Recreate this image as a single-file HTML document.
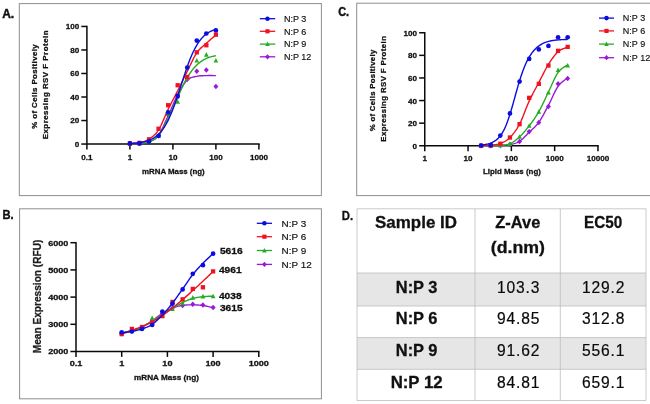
<!DOCTYPE html>
<html><head><meta charset="utf-8"><title>Figure</title>
<style>
html,body{margin:0;padding:0;background:#fff;}
body{width:650px;height:404px;overflow:hidden;font-family:'Liberation Sans', sans-serif;}
svg{display:block;font-family:'Liberation Sans', sans-serif;}
</style></head><body>
<svg width="650" height="404" viewBox="0 0 650 404">
<rect x="0" y="0" width="650" height="404" fill="#fff"/>
<g style="opacity:0.999;filter:blur(0.3px)">
<rect x="19.3" y="3.6" width="302.1" height="192.0" fill="#fff" stroke="#8e8e8e" stroke-width="1"/>
<text transform="translate(2.2,17.6) scale(0.96,1)" font-size="12.5" font-weight="bold" text-anchor="start" fill="#111" stroke="#111" stroke-width="0.45">A.</text>
<path d="M86.9 25.69999999999999 L86.9 144.05 M86.9 144.05 L259.65 144.05" stroke="#0a0a0a" stroke-width="1.5" fill="none"/>
<path d="M86.9 144.05 L86.9 149.45000000000002" stroke="#0a0a0a" stroke-width="1.5"/>
<text x="86.9" y="159.8" font-size="8.1" font-weight="bold" text-anchor="middle" fill="#111" stroke="#111" stroke-width="0.28">0.1</text>
<path d="M129.9 144.05 L129.9 149.45000000000002" stroke="#0a0a0a" stroke-width="1.5"/>
<text x="129.9" y="159.8" font-size="8.1" font-weight="bold" text-anchor="middle" fill="#111" stroke="#111" stroke-width="0.28">1</text>
<path d="M172.9 144.05 L172.9 149.45000000000002" stroke="#0a0a0a" stroke-width="1.5"/>
<text x="172.9" y="159.8" font-size="8.1" font-weight="bold" text-anchor="middle" fill="#111" stroke="#111" stroke-width="0.28">10</text>
<path d="M215.9 144.05 L215.9 149.45000000000002" stroke="#0a0a0a" stroke-width="1.5"/>
<text x="215.9" y="159.8" font-size="8.1" font-weight="bold" text-anchor="middle" fill="#111" stroke="#111" stroke-width="0.28">100</text>
<path d="M258.9 144.05 L258.9 149.45000000000002" stroke="#0a0a0a" stroke-width="1.5"/>
<text x="258.9" y="159.8" font-size="8.1" font-weight="bold" text-anchor="middle" fill="#111" stroke="#111" stroke-width="0.28">1000</text>
<path d="M81.30000000000001 144.05 L86.9 144.05" stroke="#0a0a0a" stroke-width="1.5"/>
<text x="79.2" y="147.0" font-size="8.1" font-weight="bold" text-anchor="end" fill="#111" stroke="#111" stroke-width="0.28">0</text>
<path d="M81.30000000000001 120.53 L86.9 120.53" stroke="#0a0a0a" stroke-width="1.5"/>
<text x="79.2" y="123.48" font-size="8.1" font-weight="bold" text-anchor="end" fill="#111" stroke="#111" stroke-width="0.28">20</text>
<path d="M81.30000000000001 97.01 L86.9 97.01" stroke="#0a0a0a" stroke-width="1.5"/>
<text x="79.2" y="99.96000000000001" font-size="8.1" font-weight="bold" text-anchor="end" fill="#111" stroke="#111" stroke-width="0.28">40</text>
<path d="M81.30000000000001 73.49000000000001 L86.9 73.49000000000001" stroke="#0a0a0a" stroke-width="1.5"/>
<text x="79.2" y="76.44000000000001" font-size="8.1" font-weight="bold" text-anchor="end" fill="#111" stroke="#111" stroke-width="0.28">60</text>
<path d="M81.30000000000001 49.97 L86.9 49.97" stroke="#0a0a0a" stroke-width="1.5"/>
<text x="79.2" y="52.92" font-size="8.1" font-weight="bold" text-anchor="end" fill="#111" stroke="#111" stroke-width="0.28">80</text>
<path d="M81.30000000000001 26.44999999999999 L86.9 26.44999999999999" stroke="#0a0a0a" stroke-width="1.5"/>
<text x="79.2" y="29.399999999999988" font-size="8.1" font-weight="bold" text-anchor="end" fill="#111" stroke="#111" stroke-width="0.28">100</text>
<text x="173.4" y="173.8" font-size="7.9" font-weight="bold" text-anchor="middle" fill="#111" textLength="62.6" lengthAdjust="spacing" stroke="#111" stroke-width="0.28">mRNA Mass (ng)</text>
<text transform="translate(37.2,86.5) rotate(-90)" font-size="7.9" font-weight="bold" text-anchor="middle" fill="#111" textLength="84.3" lengthAdjust="spacing" stroke="#111" stroke-width="0.28">% of Cells Positively</text>
<text transform="translate(48.3,84.9) rotate(-90)" font-size="7.9" font-weight="bold" text-anchor="middle" fill="#111" textLength="108.9" lengthAdjust="spacing" stroke="#111" stroke-width="0.28">Expressing RSV F Protein</text>
<path d="M129.90 143.70 L130.36 143.68 L130.94 143.66 L131.62 143.64 L132.38 143.61 L133.20 143.59 L134.08 143.56 L134.99 143.52 L135.92 143.48 L136.84 143.43 L137.75 143.37 L138.63 143.30 L139.46 143.23 L140.25 143.15 L141.05 143.09 L141.84 143.03 L142.64 142.98 L143.44 142.91 L144.23 142.84 L145.03 142.74 L145.83 142.61 L146.62 142.45 L147.42 142.25 L148.21 142.00 L149.01 141.70 L149.81 141.37 L150.60 141.06 L151.40 140.73 L152.20 140.39 L152.99 140.01 L153.79 139.58 L154.59 139.09 L155.38 138.53 L156.18 137.87 L156.97 137.11 L157.77 136.24 L158.57 135.23 L159.36 134.07 L160.16 132.77 L160.96 131.33 L161.75 129.79 L162.55 128.15 L163.34 126.45 L164.14 124.69 L164.94 122.90 L165.73 121.10 L166.53 119.31 L167.33 117.55 L168.12 115.83 L168.92 114.10 L169.71 112.32 L170.51 110.50 L171.31 108.66 L172.10 106.80 L172.90 104.94 L173.70 103.10 L174.49 101.29 L175.29 99.53 L176.09 97.83 L176.88 96.20 L177.68 94.66 L178.47 93.18 L179.27 91.72 L180.07 90.30 L180.86 88.91 L181.66 87.57 L182.46 86.28 L183.25 85.05 L184.05 83.89 L184.84 82.81 L185.64 81.80 L186.44 80.89 L187.23 80.08 L188.03 79.37 L188.83 78.79 L189.62 78.30 L190.42 77.91 L191.21 77.59 L192.01 77.33 L192.81 77.12 L193.60 76.94 L194.40 76.78 L195.20 76.64 L195.99 76.48 L196.79 76.31 L197.59 76.14 L198.38 76.01 L199.18 75.90 L199.97 75.82 L200.77 75.77 L201.57 75.72 L202.36 75.70 L203.16 75.68 L203.96 75.66 L204.75 75.65 L205.55 75.63 L206.34 75.61 L207.17 75.58 L208.05 75.57 L208.96 75.56 L209.88 75.55 L210.81 75.56 L211.72 75.56 L212.60 75.57 L213.42 75.58 L214.18 75.59 L214.86 75.60 L215.44 75.60 L215.90 75.61" fill="none" stroke="#9a18d8" stroke-width="1.4" stroke-linejoin="round" stroke-linecap="butt"/>
<path d="M129.90 140.95 L132.38 143.70 L129.90 146.45 L127.43 143.70 Z" fill="#9a18d8"/>
<path d="M139.46 140.83 L141.93 143.58 L139.46 146.33 L136.98 143.58 Z" fill="#9a18d8"/>
<path d="M149.01 138.95 L151.49 141.70 L149.01 144.45 L146.54 141.70 Z" fill="#9a18d8"/>
<path d="M158.57 133.07 L161.04 135.82 L158.57 138.57 L156.09 135.82 Z" fill="#9a18d8"/>
<path d="M168.12 111.90 L170.60 114.65 L168.12 117.40 L165.65 114.65 Z" fill="#9a18d8"/>
<path d="M177.68 94.26 L180.15 97.01 L177.68 99.76 L175.20 97.01 Z" fill="#9a18d8"/>
<path d="M187.23 76.62 L189.71 79.37 L187.23 82.12 L184.76 79.37 Z" fill="#9a18d8"/>
<path d="M196.79 68.39 L199.26 71.14 L196.79 73.89 L194.31 71.14 Z" fill="#9a18d8"/>
<path d="M206.34 67.21 L208.82 69.96 L206.34 72.71 L203.87 69.96 Z" fill="#9a18d8"/>
<path d="M215.90 83.68 L218.38 86.43 L215.90 89.18 L213.43 86.43 Z" fill="#9a18d8"/>
<path d="M129.90 143.70 L130.36 143.68 L130.94 143.66 L131.62 143.64 L132.38 143.61 L133.20 143.59 L134.08 143.56 L134.99 143.52 L135.92 143.48 L136.84 143.43 L137.75 143.37 L138.63 143.30 L139.46 143.23 L140.25 143.15 L141.05 143.08 L141.84 143.02 L142.64 142.96 L143.44 142.89 L144.23 142.80 L145.03 142.70 L145.83 142.57 L146.62 142.41 L147.42 142.22 L148.21 141.98 L149.01 141.70 L149.81 141.40 L150.60 141.11 L151.40 140.81 L152.20 140.50 L152.99 140.15 L153.79 139.76 L154.59 139.32 L155.38 138.81 L156.18 138.22 L156.97 137.53 L157.77 136.73 L158.57 135.82 L159.36 134.77 L160.16 133.60 L160.96 132.32 L161.75 130.94 L162.55 129.48 L163.34 127.95 L164.14 126.37 L164.94 124.75 L165.73 123.11 L166.53 121.46 L167.33 119.81 L168.12 118.18 L168.92 116.53 L169.71 114.84 L170.51 113.10 L171.31 111.32 L172.10 109.52 L172.90 107.71 L173.70 105.89 L174.49 104.07 L175.29 102.27 L176.09 100.48 L176.88 98.73 L177.68 97.01 L178.47 95.30 L179.27 93.58 L180.07 91.85 L180.86 90.12 L181.66 88.40 L182.46 86.71 L183.25 85.04 L184.05 83.41 L184.84 81.83 L185.64 80.31 L186.44 78.86 L187.23 77.49 L188.03 76.18 L188.83 74.93 L189.62 73.74 L190.42 72.59 L191.21 71.50 L192.01 70.45 L192.81 69.44 L193.60 68.48 L194.40 67.56 L195.20 66.68 L195.99 65.83 L196.79 65.02 L197.59 64.26 L198.38 63.54 L199.18 62.87 L199.97 62.25 L200.77 61.67 L201.57 61.13 L202.36 60.62 L203.16 60.14 L203.96 59.68 L204.75 59.25 L205.55 58.84 L206.34 58.44 L207.17 58.06 L208.05 57.72 L208.96 57.40 L209.88 57.11 L210.81 56.85 L211.72 56.61 L212.60 56.40 L213.42 56.21 L214.18 56.03 L214.86 55.88 L215.44 55.74 L215.90 55.61" fill="none" stroke="#24ad24" stroke-width="1.4" stroke-linejoin="round" stroke-linecap="butt"/>
<path d="M129.90 141.11 L132.25 145.69 L127.55 145.69 Z" fill="#24ad24"/>
<path d="M139.46 140.99 L141.81 145.58 L137.11 145.58 Z" fill="#24ad24"/>
<path d="M149.01 139.11 L151.36 143.70 L146.66 143.70 Z" fill="#24ad24"/>
<path d="M158.57 133.23 L160.92 137.82 L156.22 137.82 Z" fill="#24ad24"/>
<path d="M168.12 110.89 L170.47 115.47 L165.77 115.47 Z" fill="#24ad24"/>
<path d="M177.68 99.13 L180.03 103.71 L175.33 103.71 Z" fill="#24ad24"/>
<path d="M187.23 75.61 L189.58 80.19 L184.88 80.19 Z" fill="#24ad24"/>
<path d="M196.79 57.97 L199.14 62.55 L194.44 62.55 Z" fill="#24ad24"/>
<path d="M206.34 52.09 L208.69 56.67 L203.99 56.67 Z" fill="#24ad24"/>
<path d="M215.90 57.97 L218.25 62.55 L213.55 62.55 Z" fill="#24ad24"/>
<path d="M129.90 143.46 L130.36 143.43 L130.94 143.40 L131.62 143.38 L132.38 143.35 L133.20 143.31 L134.08 143.27 L134.99 143.22 L135.92 143.14 L136.84 143.05 L137.75 142.94 L138.63 142.80 L139.46 142.64 L140.25 142.46 L141.05 142.27 L141.84 142.08 L142.64 141.87 L143.44 141.65 L144.23 141.40 L145.03 141.12 L145.83 140.81 L146.62 140.45 L147.42 140.06 L148.21 139.61 L149.01 139.11 L149.81 138.58 L150.60 138.04 L151.40 137.48 L152.20 136.89 L152.99 136.27 L153.79 135.59 L154.59 134.85 L155.38 134.05 L156.18 133.17 L156.97 132.19 L157.77 131.12 L158.57 129.94 L159.36 128.62 L160.16 127.15 L160.96 125.55 L161.75 123.85 L162.55 122.07 L163.34 120.24 L164.14 118.37 L164.94 116.49 L165.73 114.63 L166.53 112.80 L167.33 111.04 L168.12 109.36 L168.92 107.74 L169.71 106.16 L170.51 104.59 L171.31 103.05 L172.10 101.52 L172.90 99.99 L173.70 98.48 L174.49 96.96 L175.29 95.43 L176.09 93.90 L176.88 92.35 L177.68 90.78 L178.47 89.19 L179.27 87.58 L180.07 85.96 L180.86 84.34 L181.66 82.71 L182.46 81.08 L183.25 79.44 L184.05 77.81 L184.84 76.19 L185.64 74.57 L186.44 72.96 L187.23 71.37 L188.03 69.77 L188.83 68.12 L189.62 66.46 L190.42 64.78 L191.21 63.11 L192.01 61.47 L192.81 59.85 L193.60 58.28 L194.40 56.78 L195.20 55.36 L195.99 54.02 L196.79 52.79 L197.59 51.68 L198.38 50.67 L199.18 49.74 L199.97 48.90 L200.77 48.12 L201.57 47.38 L202.36 46.69 L203.16 46.01 L203.96 45.35 L204.75 44.67 L205.55 43.99 L206.34 43.27 L207.17 42.51 L208.05 41.72 L208.96 40.92 L209.88 40.12 L210.81 39.33 L211.72 38.56 L212.60 37.82 L213.42 37.12 L214.18 36.48 L214.86 35.92 L215.44 35.43 L215.90 35.03" fill="none" stroke="#f01220" stroke-width="1.4" stroke-linejoin="round" stroke-linecap="butt"/>
<rect x="127.75" y="141.31" width="4.30" height="4.30" fill="#f01220"/>
<rect x="137.31" y="140.72" width="4.30" height="4.30" fill="#f01220"/>
<rect x="146.86" y="137.20" width="4.30" height="4.30" fill="#f01220"/>
<rect x="156.42" y="126.61" width="4.30" height="4.30" fill="#f01220"/>
<rect x="165.97" y="103.09" width="4.30" height="4.30" fill="#f01220"/>
<rect x="175.53" y="83.10" width="4.30" height="4.30" fill="#f01220"/>
<rect x="185.08" y="74.87" width="4.30" height="4.30" fill="#f01220"/>
<rect x="194.64" y="50.17" width="4.30" height="4.30" fill="#f01220"/>
<rect x="204.19" y="43.12" width="4.30" height="4.30" fill="#f01220"/>
<rect x="213.75" y="32.53" width="4.30" height="4.30" fill="#f01220"/>
<path d="M129.90 143.54 L130.76 143.49 L131.62 143.43 L132.48 143.37 L133.34 143.31 L134.20 143.24 L135.06 143.16 L135.92 143.08 L136.78 142.99 L137.64 142.89 L138.50 142.78 L139.36 142.66 L140.22 142.53 L141.08 142.38 L141.94 142.23 L142.80 142.05 L143.66 141.87 L144.52 141.66 L145.38 141.44 L146.24 141.20 L147.10 140.93 L147.96 140.64 L148.82 140.33 L149.68 139.98 L150.54 139.61 L151.40 139.21 L152.26 138.76 L153.12 138.28 L153.98 137.76 L154.84 137.20 L155.70 136.58 L156.56 135.92 L157.42 135.20 L158.28 134.43 L159.14 133.59 L160.00 132.69 L160.86 131.72 L161.72 130.67 L162.58 129.55 L163.44 128.36 L164.30 127.07 L165.16 125.71 L166.02 124.25 L166.88 122.70 L167.74 121.06 L168.60 119.33 L169.46 117.50 L170.32 115.58 L171.18 113.57 L172.04 111.46 L172.90 109.27 L173.76 107.00 L174.62 104.65 L175.48 102.22 L176.34 99.73 L177.20 97.19 L178.06 94.60 L178.92 91.97 L179.78 89.31 L180.64 86.63 L181.50 83.95 L182.36 81.28 L183.22 78.62 L184.08 75.99 L184.94 73.40 L185.80 70.85 L186.66 68.36 L187.52 65.93 L188.38 63.58 L189.24 61.30 L190.10 59.11 L190.96 57.00 L191.82 54.98 L192.68 53.06 L193.54 51.23 L194.40 49.49 L195.26 47.85 L196.12 46.30 L196.98 44.84 L197.84 43.47 L198.70 42.19 L199.56 40.98 L200.42 39.86 L201.28 38.82 L202.14 37.84 L203.00 36.94 L203.86 36.10 L204.72 35.32 L205.58 34.60 L206.44 33.94 L207.30 33.32 L208.16 32.76 L209.02 32.23 L209.88 31.75 L210.74 31.31 L211.60 30.90 L212.46 30.53 L213.32 30.18 L214.18 29.87 L215.04 29.58 L215.90 29.31" fill="none" stroke="#0c0ce0" stroke-width="1.4" stroke-linejoin="round" stroke-linecap="butt"/>
<circle cx="129.90" cy="143.46" r="2.35" fill="#0c0ce0"/>
<circle cx="139.46" cy="143.46" r="2.35" fill="#0c0ce0"/>
<circle cx="149.01" cy="141.70" r="2.35" fill="#0c0ce0"/>
<circle cx="158.57" cy="135.82" r="2.35" fill="#0c0ce0"/>
<circle cx="168.12" cy="112.30" r="2.35" fill="#0c0ce0"/>
<circle cx="177.68" cy="95.83" r="2.35" fill="#0c0ce0"/>
<circle cx="187.23" cy="67.61" r="2.35" fill="#0c0ce0"/>
<circle cx="196.79" cy="40.56" r="2.35" fill="#0c0ce0"/>
<circle cx="206.34" cy="33.51" r="2.35" fill="#0c0ce0"/>
<circle cx="215.90" cy="30.45" r="2.35" fill="#0c0ce0"/>
<path d="M259.8 18.7 L275.2 18.7" stroke="#0c0ce0" stroke-width="1.3"/>
<circle cx="267.50" cy="18.70" r="2.28" fill="#0c0ce0"/>
<text x="283.9" y="21.9" font-size="9" font-weight="normal" text-anchor="start" fill="#111" stroke="#111" stroke-width="0.15">N:P 3</text>
<path d="M259.8 31.3 L275.2 31.3" stroke="#f01220" stroke-width="1.3"/>
<rect x="265.41" y="29.21" width="4.17" height="4.17" fill="#f01220"/>
<text x="283.9" y="34.5" font-size="9" font-weight="normal" text-anchor="start" fill="#111" stroke="#111" stroke-width="0.15">N:P 6</text>
<path d="M259.8 44.1 L275.2 44.1" stroke="#24ad24" stroke-width="1.3"/>
<path d="M267.50 41.59 L269.78 46.04 L265.22 46.04 Z" fill="#24ad24"/>
<text x="283.9" y="47.300000000000004" font-size="9" font-weight="normal" text-anchor="start" fill="#111" stroke="#111" stroke-width="0.15">N:P 9</text>
<path d="M259.8 56.8 L275.2 56.8" stroke="#9a18d8" stroke-width="1.3"/>
<path d="M267.50 54.13 L269.90 56.80 L267.50 59.47 L265.10 56.80 Z" fill="#9a18d8"/>
<text x="283.9" y="60.0" font-size="9" font-weight="normal" text-anchor="start" fill="#111" stroke="#111" stroke-width="0.15">N:P 12</text>
<rect x="19.6" y="208.8" width="301.8" height="190.0" fill="#fff" stroke="#8e8e8e" stroke-width="1"/>
<text transform="translate(2.4,218.9) scale(0.9,1)" font-size="12.4" font-weight="bold" text-anchor="start" fill="#111" stroke="#111" stroke-width="0.45">B.</text>
<path d="M76.0 241.95 L76.0 351.5 M76.0 351.5 L259.55 351.5" stroke="#0a0a0a" stroke-width="1.5" fill="none"/>
<path d="M76.0 351.5 L76.0 356.9" stroke="#0a0a0a" stroke-width="1.5"/>
<text transform="translate(76.0,366.3) scale(1.18,1)" font-size="7.7" font-weight="bold" text-anchor="middle" fill="#111" stroke="#111" stroke-width="0.28">0.1</text>
<path d="M121.7 351.5 L121.7 356.9" stroke="#0a0a0a" stroke-width="1.5"/>
<text transform="translate(121.7,366.3) scale(1.18,1)" font-size="7.7" font-weight="bold" text-anchor="middle" fill="#111" stroke="#111" stroke-width="0.28">1</text>
<path d="M167.4 351.5 L167.4 356.9" stroke="#0a0a0a" stroke-width="1.5"/>
<text transform="translate(167.4,366.3) scale(1.18,1)" font-size="7.7" font-weight="bold" text-anchor="middle" fill="#111" stroke="#111" stroke-width="0.28">10</text>
<path d="M213.10000000000002 351.5 L213.10000000000002 356.9" stroke="#0a0a0a" stroke-width="1.5"/>
<text transform="translate(213.10000000000002,366.3) scale(1.18,1)" font-size="7.7" font-weight="bold" text-anchor="middle" fill="#111" stroke="#111" stroke-width="0.28">100</text>
<path d="M258.8 351.5 L258.8 356.9" stroke="#0a0a0a" stroke-width="1.5"/>
<text transform="translate(258.8,366.3) scale(1.18,1)" font-size="7.7" font-weight="bold" text-anchor="middle" fill="#111" stroke="#111" stroke-width="0.28">1000</text>
<path d="M70.4 351.5 L76.0 351.5" stroke="#0a0a0a" stroke-width="1.5"/>
<text transform="translate(68.4,354.3) scale(1.18,1)" font-size="7.7" font-weight="bold" text-anchor="end" fill="#111" stroke="#111" stroke-width="0.28">2000</text>
<path d="M70.4 324.3 L76.0 324.3" stroke="#0a0a0a" stroke-width="1.5"/>
<text transform="translate(68.4,327.1) scale(1.18,1)" font-size="7.7" font-weight="bold" text-anchor="end" fill="#111" stroke="#111" stroke-width="0.28">3000</text>
<path d="M70.4 297.1 L76.0 297.1" stroke="#0a0a0a" stroke-width="1.5"/>
<text transform="translate(68.4,299.90000000000003) scale(1.18,1)" font-size="7.7" font-weight="bold" text-anchor="end" fill="#111" stroke="#111" stroke-width="0.28">4000</text>
<path d="M70.4 269.9 L76.0 269.9" stroke="#0a0a0a" stroke-width="1.5"/>
<text transform="translate(68.4,272.7) scale(1.18,1)" font-size="7.7" font-weight="bold" text-anchor="end" fill="#111" stroke="#111" stroke-width="0.28">5000</text>
<path d="M70.4 242.7 L76.0 242.7" stroke="#0a0a0a" stroke-width="1.5"/>
<text transform="translate(68.4,245.5) scale(1.18,1)" font-size="7.7" font-weight="bold" text-anchor="end" fill="#111" stroke="#111" stroke-width="0.28">6000</text>
<text transform="translate(166.5,379.5) scale(1.09,1)" font-size="7.5" font-weight="bold" text-anchor="middle" fill="#111" stroke="#111" stroke-width="0.28">mRNA Mass (ng)</text>
<text transform="translate(40.7,296.4) rotate(-90)" font-size="10.1" font-weight="bold" text-anchor="middle" fill="#1c1c1c" textLength="113.6" lengthAdjust="spacing" stroke="#1c1c1c" stroke-width="0.28">Mean Expression (RFU)</text>
<path d="M121.70 333.82 L122.19 333.68 L122.80 333.50 L123.52 333.30 L124.33 333.07 L125.21 332.83 L126.14 332.56 L127.11 332.28 L128.09 332.00 L129.08 331.70 L130.05 331.41 L130.98 331.12 L131.86 330.83 L132.70 330.55 L133.55 330.27 L134.39 329.99 L135.24 329.71 L136.09 329.42 L136.93 329.13 L137.78 328.82 L138.63 328.50 L139.47 328.16 L140.32 327.81 L141.16 327.43 L142.01 327.02 L142.86 326.59 L143.70 326.13 L144.55 325.65 L145.40 325.16 L146.24 324.64 L147.09 324.11 L147.94 323.57 L148.78 323.02 L149.63 322.46 L150.47 321.90 L151.32 321.33 L152.17 320.76 L153.01 320.18 L153.86 319.58 L154.71 318.96 L155.55 318.33 L156.40 317.68 L157.24 317.04 L158.09 316.40 L158.94 315.77 L159.78 315.15 L160.63 314.55 L161.48 313.97 L162.32 313.42 L163.17 312.89 L164.01 312.37 L164.86 311.86 L165.71 311.36 L166.55 310.87 L167.40 310.40 L168.25 309.95 L169.09 309.51 L169.94 309.09 L170.79 308.70 L171.63 308.33 L172.48 307.98 L173.32 307.66 L174.17 307.36 L175.02 307.09 L175.86 306.83 L176.71 306.60 L177.56 306.38 L178.40 306.18 L179.25 306.00 L180.09 305.83 L180.94 305.68 L181.79 305.53 L182.63 305.40 L183.48 305.28 L184.33 305.17 L185.17 305.09 L186.02 305.02 L186.86 304.96 L187.71 304.92 L188.56 304.89 L189.40 304.87 L190.25 304.85 L191.10 304.85 L191.94 304.85 L192.79 304.85 L193.64 304.86 L194.48 304.88 L195.33 304.90 L196.17 304.93 L197.02 304.97 L197.87 305.02 L198.71 305.08 L199.56 305.15 L200.41 305.23 L201.25 305.32 L202.10 305.42 L202.94 305.53 L203.82 305.67 L204.75 305.83 L205.72 306.02 L206.71 306.23 L207.69 306.44 L208.66 306.66 L209.59 306.88 L210.47 307.09 L211.28 307.28 L212.00 307.45 L212.61 307.60 L213.10 307.71" fill="none" stroke="#9a18d8" stroke-width="1.4" stroke-linejoin="round" stroke-linecap="butt"/>
<path d="M121.70 331.07 L124.17 333.82 L121.70 336.57 L119.23 333.82 Z" fill="#9a18d8"/>
<path d="M131.86 328.35 L134.33 331.10 L131.86 333.85 L129.38 331.10 Z" fill="#9a18d8"/>
<path d="M142.01 324.81 L144.49 327.56 L142.01 330.31 L139.54 327.56 Z" fill="#9a18d8"/>
<path d="M152.17 317.47 L154.64 320.22 L152.17 322.97 L149.69 320.22 Z" fill="#9a18d8"/>
<path d="M162.32 310.67 L164.80 313.42 L162.32 316.17 L159.85 313.42 Z" fill="#9a18d8"/>
<path d="M172.48 305.23 L174.95 307.98 L172.48 310.73 L170.00 307.98 Z" fill="#9a18d8"/>
<path d="M182.63 302.75 L185.11 305.50 L182.63 308.25 L180.16 305.50 Z" fill="#9a18d8"/>
<path d="M192.79 301.45 L195.26 304.20 L192.79 306.95 L190.31 304.20 Z" fill="#9a18d8"/>
<path d="M202.94 302.24 L205.42 304.99 L202.94 307.74 L200.47 304.99 Z" fill="#9a18d8"/>
<path d="M213.10 304.82 L215.58 307.57 L213.10 310.32 L210.63 307.57 Z" fill="#9a18d8"/>
<path d="M121.70 333.00 L122.19 332.89 L122.80 332.75 L123.52 332.59 L124.33 332.41 L125.21 332.21 L126.14 332.00 L127.11 331.78 L128.09 331.54 L129.08 331.30 L130.05 331.06 L130.98 330.81 L131.86 330.56 L132.70 330.31 L133.55 330.06 L134.39 329.81 L135.24 329.55 L136.09 329.28 L136.93 329.01 L137.78 328.72 L138.63 328.42 L139.47 328.10 L140.32 327.76 L141.16 327.40 L142.01 327.02 L142.86 326.61 L143.70 326.17 L144.55 325.70 L145.40 325.22 L146.24 324.71 L147.09 324.20 L147.94 323.67 L148.78 323.14 L149.63 322.61 L150.47 322.08 L151.32 321.55 L152.17 321.04 L153.01 320.53 L153.86 320.01 L154.71 319.50 L155.55 318.98 L156.40 318.46 L157.24 317.94 L158.09 317.42 L158.94 316.90 L159.78 316.37 L160.63 315.84 L161.48 315.31 L162.32 314.78 L163.17 314.24 L164.01 313.70 L164.86 313.15 L165.71 312.59 L166.55 312.04 L167.40 311.48 L168.25 310.93 L169.09 310.38 L169.94 309.83 L170.79 309.30 L171.63 308.77 L172.48 308.25 L173.32 307.74 L174.17 307.23 L175.02 306.73 L175.86 306.23 L176.71 305.73 L177.56 305.24 L178.40 304.76 L179.25 304.29 L180.09 303.83 L180.94 303.39 L181.79 302.96 L182.63 302.54 L183.48 302.14 L184.33 301.74 L185.17 301.35 L186.02 300.97 L186.86 300.61 L187.71 300.25 L188.56 299.91 L189.40 299.59 L190.25 299.28 L191.10 298.99 L191.94 298.71 L192.79 298.46 L193.64 298.23 L194.48 298.02 L195.33 297.83 L196.17 297.65 L197.02 297.50 L197.87 297.36 L198.71 297.22 L199.56 297.11 L200.41 296.99 L201.25 296.89 L202.10 296.79 L202.94 296.69 L203.82 296.60 L204.75 296.52 L205.72 296.46 L206.71 296.40 L207.69 296.35 L208.66 296.31 L209.59 296.27 L210.47 296.24 L211.28 296.22 L212.00 296.19 L212.61 296.17 L213.10 296.15" fill="none" stroke="#24ad24" stroke-width="1.4" stroke-linejoin="round" stroke-linecap="butt"/>
<path d="M121.70 330.42 L124.05 335.00 L119.35 335.00 Z" fill="#24ad24"/>
<path d="M131.86 328.24 L134.21 332.83 L129.51 332.83 Z" fill="#24ad24"/>
<path d="M142.01 324.98 L144.36 329.56 L139.66 329.56 Z" fill="#24ad24"/>
<path d="M152.17 315.43 L154.52 320.01 L149.82 320.01 Z" fill="#24ad24"/>
<path d="M162.32 312.82 L164.67 317.40 L159.97 317.40 Z" fill="#24ad24"/>
<path d="M172.48 306.32 L174.83 310.90 L170.13 310.90 Z" fill="#24ad24"/>
<path d="M182.63 300.61 L184.98 305.19 L180.28 305.19 Z" fill="#24ad24"/>
<path d="M192.79 295.11 L195.14 299.70 L190.44 299.70 Z" fill="#24ad24"/>
<path d="M202.94 293.84 L205.29 298.42 L200.59 298.42 Z" fill="#24ad24"/>
<path d="M213.10 293.75 L215.45 298.34 L210.75 298.34 Z" fill="#24ad24"/>
<path d="M121.70 333.82 L122.19 333.65 L122.80 333.44 L123.52 333.19 L124.33 332.91 L125.21 332.61 L126.14 332.29 L127.11 331.96 L128.09 331.61 L129.08 331.27 L130.05 330.93 L130.98 330.60 L131.86 330.28 L132.70 329.98 L133.55 329.67 L134.39 329.37 L135.24 329.07 L136.09 328.76 L136.93 328.45 L137.78 328.13 L138.63 327.82 L139.47 327.49 L140.32 327.16 L141.16 326.82 L142.01 326.48 L142.86 326.12 L143.70 325.77 L144.55 325.42 L145.40 325.06 L146.24 324.69 L147.09 324.32 L147.94 323.94 L148.78 323.54 L149.63 323.14 L150.47 322.73 L151.32 322.30 L152.17 321.85 L153.01 321.39 L153.86 320.92 L154.71 320.43 L155.55 319.94 L156.40 319.43 L157.24 318.91 L158.09 318.38 L158.94 317.84 L159.78 317.29 L160.63 316.74 L161.48 316.17 L162.32 315.60 L163.17 315.01 L164.01 314.41 L164.86 313.81 L165.71 313.19 L166.55 312.56 L167.40 311.92 L168.25 311.28 L169.09 310.63 L169.94 309.97 L170.79 309.31 L171.63 308.65 L172.48 307.98 L173.32 307.31 L174.17 306.63 L175.02 305.94 L175.86 305.25 L176.71 304.55 L177.56 303.85 L178.40 303.14 L179.25 302.43 L180.09 301.71 L180.94 300.99 L181.79 300.27 L182.63 299.55 L183.48 298.82 L184.33 298.09 L185.17 297.35 L186.02 296.61 L186.86 295.87 L187.71 295.12 L188.56 294.37 L189.40 293.61 L190.25 292.86 L191.10 292.10 L191.94 291.34 L192.79 290.57 L193.64 289.81 L194.48 289.03 L195.33 288.26 L196.17 287.48 L197.02 286.70 L197.87 285.92 L198.71 285.14 L199.56 284.35 L200.41 283.56 L201.25 282.77 L202.10 281.98 L202.94 281.19 L203.82 280.36 L204.75 279.48 L205.72 278.57 L206.71 277.63 L207.69 276.70 L208.66 275.77 L209.59 274.88 L210.47 274.05 L211.28 273.27 L212.00 272.59 L212.61 272.00 L213.10 271.53" fill="none" stroke="#f01220" stroke-width="1.4" stroke-linejoin="round" stroke-linecap="butt"/>
<rect x="119.55" y="331.94" width="4.30" height="4.30" fill="#f01220"/>
<rect x="129.71" y="326.77" width="4.30" height="4.30" fill="#f01220"/>
<rect x="139.86" y="324.87" width="4.30" height="4.30" fill="#f01220"/>
<rect x="150.02" y="320.55" width="4.30" height="4.30" fill="#f01220"/>
<rect x="160.17" y="313.99" width="4.30" height="4.30" fill="#f01220"/>
<rect x="170.33" y="299.76" width="4.30" height="4.30" fill="#f01220"/>
<rect x="180.48" y="297.15" width="4.30" height="4.30" fill="#f01220"/>
<rect x="190.64" y="286.76" width="4.30" height="4.30" fill="#f01220"/>
<rect x="200.79" y="285.16" width="4.30" height="4.30" fill="#f01220"/>
<rect x="210.95" y="269.25" width="4.30" height="4.30" fill="#f01220"/>
<path d="M121.70 332.73 L122.19 332.67 L122.80 332.60 L123.52 332.51 L124.33 332.42 L125.21 332.32 L126.14 332.20 L127.11 332.08 L128.09 331.96 L129.08 331.82 L130.05 331.68 L130.98 331.53 L131.86 331.37 L132.70 331.21 L133.55 331.05 L134.39 330.89 L135.24 330.72 L136.09 330.54 L136.93 330.35 L137.78 330.15 L138.63 329.94 L139.47 329.71 L140.32 329.47 L141.16 329.21 L142.01 328.92 L142.86 328.63 L143.70 328.33 L144.55 328.03 L145.40 327.72 L146.24 327.39 L147.09 327.04 L147.94 326.66 L148.78 326.26 L149.63 325.83 L150.47 325.36 L151.32 324.85 L152.17 324.30 L153.01 323.70 L153.86 323.06 L154.71 322.38 L155.55 321.66 L156.40 320.91 L157.24 320.14 L158.09 319.33 L158.94 318.51 L159.78 317.66 L160.63 316.80 L161.48 315.93 L162.32 315.05 L163.17 314.16 L164.01 313.24 L164.86 312.30 L165.71 311.34 L166.55 310.37 L167.40 309.37 L168.25 308.36 L169.09 307.34 L169.94 306.29 L170.79 305.24 L171.63 304.17 L172.48 303.08 L173.32 301.98 L174.17 300.86 L175.02 299.71 L175.86 298.54 L176.71 297.36 L177.56 296.16 L178.40 294.96 L179.25 293.76 L180.09 292.55 L180.94 291.34 L181.79 290.14 L182.63 288.94 L183.48 287.74 L184.33 286.52 L185.17 285.28 L186.02 284.04 L186.86 282.79 L187.71 281.55 L188.56 280.32 L189.40 279.11 L190.25 277.91 L191.10 276.75 L191.94 275.62 L192.79 274.52 L193.64 273.47 L194.48 272.44 L195.33 271.44 L196.17 270.47 L197.02 269.51 L197.87 268.58 L198.71 267.66 L199.56 266.76 L200.41 265.87 L201.25 264.98 L202.10 264.11 L202.94 263.24 L203.82 262.35 L204.75 261.43 L205.72 260.49 L206.71 259.55 L207.69 258.63 L208.66 257.73 L209.59 256.87 L210.47 256.06 L211.28 255.32 L212.00 254.66 L212.61 254.09 L213.10 253.63" fill="none" stroke="#0c0ce0" stroke-width="1.4" stroke-linejoin="round" stroke-linecap="butt"/>
<circle cx="121.70" cy="332.30" r="2.35" fill="#0c0ce0"/>
<circle cx="131.86" cy="331.51" r="2.35" fill="#0c0ce0"/>
<circle cx="142.01" cy="328.92" r="2.35" fill="#0c0ce0"/>
<circle cx="152.17" cy="325.01" r="2.35" fill="#0c0ce0"/>
<circle cx="162.32" cy="311.52" r="2.35" fill="#0c0ce0"/>
<circle cx="172.48" cy="303.71" r="2.35" fill="#0c0ce0"/>
<circle cx="182.63" cy="289.40" r="2.35" fill="#0c0ce0"/>
<circle cx="192.79" cy="273.79" r="2.35" fill="#0c0ce0"/>
<circle cx="202.94" cy="265.19" r="2.35" fill="#0c0ce0"/>
<circle cx="213.10" cy="253.63" r="2.35" fill="#0c0ce0"/>
<path d="M256.8 223.3 L272.0 223.3" stroke="#0c0ce0" stroke-width="1.3"/>
<circle cx="264.40" cy="223.30" r="2.28" fill="#0c0ce0"/>
<text transform="translate(281.6,226.5) scale(1.1,1)" font-size="9" font-weight="normal" text-anchor="start" fill="#111" stroke="#111" stroke-width="0.15">N:P 3</text>
<path d="M256.8 236.7 L272.0 236.7" stroke="#f01220" stroke-width="1.3"/>
<rect x="262.31" y="234.61" width="4.17" height="4.17" fill="#f01220"/>
<text transform="translate(281.6,239.89999999999998) scale(1.1,1)" font-size="9" font-weight="normal" text-anchor="start" fill="#111" stroke="#111" stroke-width="0.15">N:P 6</text>
<path d="M256.8 250.5 L272.0 250.5" stroke="#24ad24" stroke-width="1.3"/>
<path d="M264.40 247.99 L266.68 252.44 L262.12 252.44 Z" fill="#24ad24"/>
<text transform="translate(281.6,253.7) scale(1.1,1)" font-size="9" font-weight="normal" text-anchor="start" fill="#111" stroke="#111" stroke-width="0.15">N:P 9</text>
<path d="M256.8 264.4 L272.0 264.4" stroke="#9a18d8" stroke-width="1.3"/>
<path d="M264.40 261.73 L266.80 264.40 L264.40 267.07 L262.00 264.40 Z" fill="#9a18d8"/>
<text transform="translate(281.6,267.59999999999997) scale(1.1,1)" font-size="9" font-weight="normal" text-anchor="start" fill="#111" stroke="#111" stroke-width="0.15">N:P 12</text>
<text transform="translate(219.9,254.3) scale(1.1,1)" font-size="9.3" font-weight="bold" text-anchor="start" fill="#111" stroke="#111" stroke-width="0.28">5616</text>
<text transform="translate(218.9,272.5) scale(1.1,1)" font-size="9.3" font-weight="bold" text-anchor="start" fill="#111" stroke="#111" stroke-width="0.28">4961</text>
<text transform="translate(218.9,298.9) scale(1.1,1)" font-size="9.3" font-weight="bold" text-anchor="start" fill="#111" stroke="#111" stroke-width="0.28">4038</text>
<text transform="translate(219.9,311.3) scale(1.1,1)" font-size="9.3" font-weight="bold" text-anchor="start" fill="#111" stroke="#111" stroke-width="0.28">3615</text>
<rect x="356.7" y="3.2" width="320" height="192.4" fill="#fff" stroke="#8e8e8e" stroke-width="1"/>
<text transform="translate(338.2,15.9) scale(0.86,1)" font-size="12.6" font-weight="bold" text-anchor="start" fill="#111" stroke="#111" stroke-width="0.45">C.</text>
<path d="M424.75 32.000000000000014 L424.75 145.75 M424.75 145.75 L598.7 145.75" stroke="#0a0a0a" stroke-width="1.5" fill="none"/>
<path d="M424.75 145.75 L424.75 151.15" stroke="#0a0a0a" stroke-width="1.5"/>
<text x="424.75" y="161.45" font-size="8.1" font-weight="bold" text-anchor="middle" fill="#111" stroke="#111" stroke-width="0.28">1</text>
<path d="M468.05 145.75 L468.05 151.15" stroke="#0a0a0a" stroke-width="1.5"/>
<text x="468.05" y="161.45" font-size="8.1" font-weight="bold" text-anchor="middle" fill="#111" stroke="#111" stroke-width="0.28">10</text>
<path d="M511.35 145.75 L511.35 151.15" stroke="#0a0a0a" stroke-width="1.5"/>
<text x="511.35" y="161.45" font-size="8.1" font-weight="bold" text-anchor="middle" fill="#111" stroke="#111" stroke-width="0.28">100</text>
<path d="M554.65 145.75 L554.65 151.15" stroke="#0a0a0a" stroke-width="1.5"/>
<text x="554.65" y="161.45" font-size="8.1" font-weight="bold" text-anchor="middle" fill="#111" stroke="#111" stroke-width="0.28">1000</text>
<path d="M597.95 145.75 L597.95 151.15" stroke="#0a0a0a" stroke-width="1.5"/>
<text x="597.95" y="161.45" font-size="8.1" font-weight="bold" text-anchor="middle" fill="#111" stroke="#111" stroke-width="0.28">10000</text>
<path d="M419.15 145.75 L424.75 145.75" stroke="#0a0a0a" stroke-width="1.5"/>
<text x="417.05" y="148.7" font-size="8.1" font-weight="bold" text-anchor="end" fill="#111" stroke="#111" stroke-width="0.28">0</text>
<path d="M419.15 123.15 L424.75 123.15" stroke="#0a0a0a" stroke-width="1.5"/>
<text x="417.05" y="126.10000000000001" font-size="8.1" font-weight="bold" text-anchor="end" fill="#111" stroke="#111" stroke-width="0.28">20</text>
<path d="M419.15 100.55000000000001 L424.75 100.55000000000001" stroke="#0a0a0a" stroke-width="1.5"/>
<text x="417.05" y="103.50000000000001" font-size="8.1" font-weight="bold" text-anchor="end" fill="#111" stroke="#111" stroke-width="0.28">40</text>
<path d="M419.15 77.95 L424.75 77.95" stroke="#0a0a0a" stroke-width="1.5"/>
<text x="417.05" y="80.9" font-size="8.1" font-weight="bold" text-anchor="end" fill="#111" stroke="#111" stroke-width="0.28">60</text>
<path d="M419.15 55.35000000000001 L424.75 55.35000000000001" stroke="#0a0a0a" stroke-width="1.5"/>
<text x="417.05" y="58.30000000000001" font-size="8.1" font-weight="bold" text-anchor="end" fill="#111" stroke="#111" stroke-width="0.28">80</text>
<path d="M419.15 32.750000000000014 L424.75 32.750000000000014" stroke="#0a0a0a" stroke-width="1.5"/>
<text x="417.05" y="35.70000000000002" font-size="8.1" font-weight="bold" text-anchor="end" fill="#111" stroke="#111" stroke-width="0.28">100</text>
<text x="511.9" y="173.8" font-size="7.9" font-weight="bold" text-anchor="middle" fill="#111" textLength="58" lengthAdjust="spacing" stroke="#111" stroke-width="0.28">Lipid Mass (ng)</text>
<text transform="translate(375.4,90.5) rotate(-90)" font-size="7.8" font-weight="bold" text-anchor="middle" fill="#111" textLength="81.5" lengthAdjust="spacing" stroke="#111" stroke-width="0.28">% of Cells Positively</text>
<text transform="translate(386.0,88.9) rotate(-90)" font-size="7.8" font-weight="bold" text-anchor="middle" fill="#111" textLength="105.6" lengthAdjust="spacing" stroke="#111" stroke-width="0.28">Expressing RSV F Protein</text>
<path d="M481.08 145.64 L481.55 145.64 L482.13 145.64 L482.81 145.64 L483.58 145.65 L484.41 145.65 L485.29 145.65 L486.21 145.65 L487.14 145.65 L488.08 145.65 L488.99 145.65 L489.87 145.64 L490.71 145.64 L491.51 145.63 L492.31 145.62 L493.11 145.61 L493.91 145.60 L494.72 145.59 L495.52 145.57 L496.32 145.56 L497.12 145.54 L497.92 145.51 L498.73 145.48 L499.53 145.45 L500.33 145.41 L501.13 145.37 L501.93 145.34 L502.73 145.31 L503.54 145.29 L504.34 145.25 L505.14 145.21 L505.94 145.16 L506.74 145.10 L507.55 145.01 L508.35 144.91 L509.15 144.78 L509.95 144.62 L510.75 144.45 L511.55 144.27 L512.36 144.09 L513.16 143.89 L513.96 143.68 L514.76 143.44 L515.56 143.17 L516.37 142.87 L517.17 142.54 L517.97 142.15 L518.77 141.72 L519.57 141.23 L520.38 140.68 L521.18 140.06 L521.98 139.39 L522.78 138.67 L523.58 137.91 L524.38 137.12 L525.19 136.31 L525.99 135.48 L526.79 134.65 L527.59 133.81 L528.39 132.99 L529.20 132.19 L530.00 131.42 L530.80 130.67 L531.60 129.93 L532.40 129.20 L533.20 128.47 L534.01 127.71 L534.81 126.93 L535.61 126.11 L536.41 125.25 L537.21 124.32 L538.02 123.32 L538.82 122.25 L539.62 121.09 L540.42 119.85 L541.22 118.55 L542.03 117.19 L542.83 115.78 L543.63 114.34 L544.43 112.86 L545.23 111.36 L546.03 109.84 L546.84 108.32 L547.64 106.80 L548.44 105.30 L549.24 103.75 L550.04 102.13 L550.85 100.44 L551.65 98.73 L552.45 96.99 L553.25 95.27 L554.05 93.57 L554.85 91.93 L555.66 90.36 L556.46 88.88 L557.26 87.53 L558.06 86.31 L558.89 85.22 L559.78 84.21 L560.69 83.28 L561.63 82.43 L562.56 81.65 L563.47 80.94 L564.36 80.30 L565.19 79.72 L565.96 79.20 L566.64 78.74 L567.22 78.32 L567.68 77.95" fill="none" stroke="#9a18d8" stroke-width="1.4" stroke-linejoin="round" stroke-linecap="butt"/>
<path d="M481.08 143.00 L483.56 145.75 L481.08 148.50 L478.61 145.75 Z" fill="#9a18d8"/>
<path d="M490.71 143.00 L493.18 145.75 L490.71 148.50 L488.23 145.75 Z" fill="#9a18d8"/>
<path d="M500.33 142.66 L502.80 145.41 L500.33 148.16 L497.85 145.41 Z" fill="#9a18d8"/>
<path d="M509.95 141.87 L512.43 144.62 L509.95 147.37 L507.48 144.62 Z" fill="#9a18d8"/>
<path d="M519.57 138.71 L522.05 141.46 L519.57 144.21 L517.10 141.46 Z" fill="#9a18d8"/>
<path d="M529.20 128.88 L531.67 131.62 L529.20 134.38 L526.72 131.62 Z" fill="#9a18d8"/>
<path d="M538.82 119.72 L541.29 122.47 L538.82 125.22 L536.34 122.47 Z" fill="#9a18d8"/>
<path d="M548.44 103.79 L550.92 106.54 L548.44 109.29 L545.97 106.54 Z" fill="#9a18d8"/>
<path d="M558.06 80.96 L560.54 83.71 L558.06 86.46 L555.59 83.71 Z" fill="#9a18d8"/>
<path d="M567.68 75.77 L570.16 78.52 L567.68 81.27 L565.21 78.52 Z" fill="#9a18d8"/>
<path d="M481.08 145.64 L481.55 145.63 L482.13 145.63 L482.81 145.62 L483.58 145.62 L484.41 145.61 L485.29 145.60 L486.21 145.59 L487.14 145.58 L488.08 145.57 L488.99 145.56 L489.87 145.54 L490.71 145.52 L491.51 145.51 L492.31 145.49 L493.11 145.48 L493.91 145.47 L494.72 145.46 L495.52 145.44 L496.32 145.42 L497.12 145.39 L497.92 145.35 L498.73 145.31 L499.53 145.25 L500.33 145.19 L501.13 145.12 L501.93 145.07 L502.73 145.02 L503.54 144.98 L504.34 144.93 L505.14 144.86 L505.94 144.77 L506.74 144.65 L507.55 144.49 L508.35 144.29 L509.15 144.03 L509.95 143.72 L510.75 143.34 L511.55 142.93 L512.36 142.47 L513.16 141.97 L513.96 141.43 L514.76 140.86 L515.56 140.26 L516.37 139.62 L517.17 138.96 L517.97 138.27 L518.77 137.56 L519.57 136.82 L520.38 136.06 L521.18 135.27 L521.98 134.44 L522.78 133.59 L523.58 132.70 L524.38 131.79 L525.19 130.86 L525.99 129.90 L526.79 128.92 L527.59 127.92 L528.39 126.90 L529.20 125.86 L530.00 124.81 L530.80 123.76 L531.60 122.69 L532.40 121.60 L533.20 120.49 L534.01 119.35 L534.81 118.18 L535.61 116.98 L536.41 115.74 L537.21 114.45 L538.02 113.12 L538.82 111.74 L539.62 110.29 L540.42 108.76 L541.22 107.18 L542.03 105.55 L542.83 103.88 L543.63 102.18 L544.43 100.46 L545.23 98.74 L546.03 97.01 L546.84 95.30 L547.64 93.62 L548.44 91.96 L549.24 90.29 L550.04 88.57 L550.85 86.80 L551.65 85.02 L552.45 83.24 L553.25 81.49 L554.05 79.77 L554.85 78.12 L555.66 76.55 L556.46 75.08 L557.26 73.73 L558.06 72.53 L558.89 71.45 L559.78 70.48 L560.69 69.60 L561.63 68.81 L562.56 68.10 L563.47 67.47 L564.36 66.90 L565.19 66.40 L565.96 65.95 L566.64 65.54 L567.22 65.18 L567.68 64.84" fill="none" stroke="#24ad24" stroke-width="1.4" stroke-linejoin="round" stroke-linecap="butt"/>
<path d="M481.08 143.16 L483.43 147.75 L478.73 147.75 Z" fill="#24ad24"/>
<path d="M490.71 143.16 L493.06 147.75 L488.36 147.75 Z" fill="#24ad24"/>
<path d="M500.33 142.60 L502.68 147.18 L497.98 147.18 Z" fill="#24ad24"/>
<path d="M509.95 141.47 L512.30 146.05 L507.60 146.05 Z" fill="#24ad24"/>
<path d="M519.57 134.24 L521.92 138.82 L517.22 138.82 Z" fill="#24ad24"/>
<path d="M529.20 123.28 L531.55 127.86 L526.85 127.86 Z" fill="#24ad24"/>
<path d="M538.82 109.15 L541.17 113.73 L536.47 113.73 Z" fill="#24ad24"/>
<path d="M548.44 89.94 L550.79 94.52 L546.09 94.52 Z" fill="#24ad24"/>
<path d="M558.06 67.46 L560.41 72.04 L555.71 72.04 Z" fill="#24ad24"/>
<path d="M567.68 62.94 L570.03 67.52 L565.33 67.52 Z" fill="#24ad24"/>
<path d="M481.08 145.52 L481.55 145.51 L482.13 145.49 L482.81 145.47 L483.58 145.45 L484.41 145.42 L485.29 145.40 L486.21 145.36 L487.14 145.32 L488.08 145.28 L488.99 145.22 L489.87 145.15 L490.71 145.07 L491.51 144.99 L492.31 144.92 L493.11 144.86 L493.91 144.79 L494.72 144.72 L495.52 144.63 L496.32 144.52 L497.12 144.39 L497.92 144.22 L498.73 144.02 L499.53 143.78 L500.33 143.49 L501.13 143.17 L501.93 142.83 L502.73 142.48 L503.54 142.10 L504.34 141.68 L505.14 141.24 L505.94 140.75 L506.74 140.21 L507.55 139.63 L508.35 138.98 L509.15 138.28 L509.95 137.50 L510.75 136.67 L511.55 135.80 L512.36 134.89 L513.16 133.92 L513.96 132.91 L514.76 131.84 L515.56 130.71 L516.37 129.52 L517.17 128.26 L517.97 126.93 L518.77 125.53 L519.57 124.05 L520.38 122.46 L521.18 120.73 L521.98 118.89 L522.78 116.95 L523.58 114.95 L524.38 112.91 L525.19 110.85 L525.99 108.79 L526.79 106.77 L527.59 104.80 L528.39 102.91 L529.20 101.12 L530.00 99.41 L530.80 97.75 L531.60 96.14 L532.40 94.56 L533.20 93.01 L534.01 91.49 L534.81 89.98 L535.61 88.48 L536.41 86.99 L537.21 85.50 L538.02 83.99 L538.82 82.47 L539.62 80.93 L540.42 79.36 L541.22 77.78 L542.03 76.20 L542.83 74.62 L543.63 73.06 L544.43 71.51 L545.23 69.99 L546.03 68.52 L546.84 67.08 L547.64 65.70 L548.44 64.39 L549.24 63.12 L550.04 61.87 L550.85 60.66 L551.65 59.47 L552.45 58.33 L553.25 57.22 L554.05 56.16 L554.85 55.16 L555.66 54.21 L556.46 53.32 L557.26 52.49 L558.06 51.73 L558.89 51.05 L559.78 50.44 L560.69 49.90 L561.63 49.42 L562.56 49.00 L563.47 48.63 L564.36 48.30 L565.19 48.01 L565.96 47.75 L566.64 47.51 L567.22 47.30 L567.68 47.10" fill="none" stroke="#f01220" stroke-width="1.4" stroke-linejoin="round" stroke-linecap="butt"/>
<rect x="478.93" y="143.60" width="4.30" height="4.30" fill="#f01220"/>
<rect x="488.56" y="143.26" width="4.30" height="4.30" fill="#f01220"/>
<rect x="498.18" y="141.57" width="4.30" height="4.30" fill="#f01220"/>
<rect x="507.80" y="135.35" width="4.30" height="4.30" fill="#f01220"/>
<rect x="517.42" y="122.02" width="4.30" height="4.30" fill="#f01220"/>
<rect x="527.05" y="95.69" width="4.30" height="4.30" fill="#f01220"/>
<rect x="536.67" y="81.68" width="4.30" height="4.30" fill="#f01220"/>
<rect x="546.29" y="63.37" width="4.30" height="4.30" fill="#f01220"/>
<rect x="555.91" y="48.68" width="4.30" height="4.30" fill="#f01220"/>
<rect x="565.53" y="44.73" width="4.30" height="4.30" fill="#f01220"/>
<path d="M481.08 145.06 L481.95 144.97 L482.82 144.87 L483.68 144.75 L484.55 144.62 L485.41 144.48 L486.28 144.31 L487.15 144.12 L488.01 143.91 L488.88 143.67 L489.74 143.40 L490.61 143.10 L491.48 142.76 L492.34 142.38 L493.21 141.95 L494.07 141.46 L494.94 140.92 L495.81 140.31 L496.67 139.64 L497.54 138.88 L498.40 138.04 L499.27 137.10 L500.14 136.06 L501.00 134.90 L501.87 133.61 L502.73 132.19 L503.60 130.61 L504.47 128.89 L505.33 127.00 L506.20 124.95 L507.06 122.74 L507.93 120.37 L508.80 117.85 L509.66 115.19 L510.53 112.40 L511.39 109.49 L512.26 106.50 L513.13 103.44 L513.99 100.33 L514.86 97.19 L515.72 94.06 L516.59 90.96 L517.46 87.90 L518.32 84.91 L519.19 82.00 L520.05 79.20 L520.92 76.50 L521.79 73.92 L522.65 71.47 L523.52 69.15 L524.38 66.96 L525.25 64.90 L526.12 62.97 L526.98 61.16 L527.85 59.47 L528.71 57.89 L529.58 56.42 L530.45 55.05 L531.31 53.78 L532.18 52.60 L533.04 51.50 L533.91 50.48 L534.78 49.53 L535.64 48.65 L536.51 47.83 L537.37 47.07 L538.24 46.36 L539.11 45.70 L539.97 45.10 L540.84 44.55 L541.70 44.05 L542.57 43.59 L543.44 43.18 L544.30 42.80 L545.17 42.46 L546.03 42.14 L546.90 41.86 L547.77 41.61 L548.63 41.37 L549.50 41.16 L550.36 40.97 L551.23 40.80 L552.10 40.65 L552.96 40.51 L553.83 40.38 L554.69 40.26 L555.56 40.16 L556.43 40.06 L557.29 39.98 L558.16 39.90 L559.02 39.83 L559.89 39.77 L560.76 39.71 L561.62 39.66 L562.49 39.62 L563.35 39.58 L564.22 39.54 L565.09 39.50 L565.95 39.47 L566.82 39.45 L567.68 39.42" fill="none" stroke="#0c0ce0" stroke-width="1.4" stroke-linejoin="round" stroke-linecap="butt"/>
<circle cx="481.08" cy="145.52" r="2.35" fill="#0c0ce0"/>
<circle cx="490.71" cy="145.19" r="2.35" fill="#0c0ce0"/>
<circle cx="500.33" cy="135.58" r="2.35" fill="#0c0ce0"/>
<circle cx="509.95" cy="113.43" r="2.35" fill="#0c0ce0"/>
<circle cx="519.57" cy="81.57" r="2.35" fill="#0c0ce0"/>
<circle cx="529.20" cy="58.97" r="2.35" fill="#0c0ce0"/>
<circle cx="538.82" cy="49.47" r="2.35" fill="#0c0ce0"/>
<circle cx="548.44" cy="45.97" r="2.35" fill="#0c0ce0"/>
<circle cx="558.06" cy="37.27" r="2.35" fill="#0c0ce0"/>
<circle cx="567.68" cy="37.27" r="2.35" fill="#0c0ce0"/>
<path d="M599.0 18.1 L614.0 18.1" stroke="#0c0ce0" stroke-width="1.3"/>
<circle cx="606.50" cy="18.10" r="2.28" fill="#0c0ce0"/>
<text x="622.8" y="21.3" font-size="9" font-weight="normal" text-anchor="start" fill="#111" stroke="#111" stroke-width="0.15">N:P 3</text>
<path d="M599.0 30.9 L614.0 30.9" stroke="#f01220" stroke-width="1.3"/>
<rect x="604.41" y="28.81" width="4.17" height="4.17" fill="#f01220"/>
<text x="622.8" y="34.1" font-size="9" font-weight="normal" text-anchor="start" fill="#111" stroke="#111" stroke-width="0.15">N:P 6</text>
<path d="M599.0 44.1 L614.0 44.1" stroke="#24ad24" stroke-width="1.3"/>
<path d="M606.50 41.59 L608.78 46.04 L604.22 46.04 Z" fill="#24ad24"/>
<text x="622.8" y="47.300000000000004" font-size="9" font-weight="normal" text-anchor="start" fill="#111" stroke="#111" stroke-width="0.15">N:P 9</text>
<path d="M599.0 57.7 L614.0 57.7" stroke="#9a18d8" stroke-width="1.3"/>
<path d="M606.50 55.03 L608.90 57.70 L606.50 60.37 L604.10 57.70 Z" fill="#9a18d8"/>
<text x="622.8" y="60.900000000000006" font-size="9" font-weight="normal" text-anchor="start" fill="#111" stroke="#111" stroke-width="0.15">N:P 12</text>
<rect x="357.0" y="273.0" width="289.0" height="33.0" fill="#e6e6e6"/>
<rect x="357.0" y="337.6" width="289.0" height="31.69999999999999" fill="#e6e6e6"/>
<path d="M357.0 208.8 L646.0 208.8" stroke="#bdbdbd" stroke-width="0.8"/>
<path d="M357.0 273.0 L646.0 273.0" stroke="#bdbdbd" stroke-width="0.8"/>
<path d="M357.0 306.0 L646.0 306.0" stroke="#bdbdbd" stroke-width="0.8"/>
<path d="M357.0 337.6 L646.0 337.6" stroke="#bdbdbd" stroke-width="0.8"/>
<path d="M357.0 369.3 L646.0 369.3" stroke="#bdbdbd" stroke-width="0.8"/>
<path d="M357.0 400.5 L646.0 400.5" stroke="#bdbdbd" stroke-width="0.8"/>
<path d="M357.0 208.8 L357.0 400.5" stroke="#bdbdbd" stroke-width="0.8"/>
<path d="M475.0 208.8 L475.0 400.5" stroke="#bdbdbd" stroke-width="0.8"/>
<path d="M560.3 208.8 L560.3 400.5" stroke="#bdbdbd" stroke-width="0.8"/>
<path d="M646.0 208.8 L646.0 400.5" stroke="#bdbdbd" stroke-width="0.8"/>
<text transform="translate(341.8,219.5) scale(0.95,1)" font-size="11.9" font-weight="bold" text-anchor="start" fill="#111" stroke="#111" stroke-width="0.3">D.</text>
<text transform="translate(416,227.8) scale(1.021,1)" font-size="16.6" font-weight="bold" text-anchor="middle" fill="#111" stroke="#111" stroke-width="0.3">Sample ID</text>
<text transform="translate(517.8,227.8) scale(0.99,1)" font-size="16.6" font-weight="bold" text-anchor="middle" fill="#111" stroke="#111" stroke-width="0.3">Z-Ave</text>
<text transform="translate(517.9,253.3) scale(1.07,1)" font-size="16.6" font-weight="bold" text-anchor="middle" fill="#111" stroke="#111" stroke-width="0.3">(d.nm)</text>
<text transform="translate(603.1,227.8) scale(0.92,1)" font-size="16.6" font-weight="bold" text-anchor="middle" fill="#111" stroke="#111" stroke-width="0.3">EC50</text>
<text transform="translate(416.6,292.5) scale(1.053,1)" font-size="15.6" font-weight="bold" text-anchor="middle" fill="#111" stroke="#111" stroke-width="0.3">N:P 3</text>
<text x="518.2" y="292.5" font-size="15.6" font-weight="normal" text-anchor="middle" fill="#0a0a0a" textLength="42.4" lengthAdjust="spacing" stroke="#0a0a0a" stroke-width="0.2">103.3</text>
<text x="603.2" y="292.5" font-size="15.6" font-weight="normal" text-anchor="middle" fill="#0a0a0a" textLength="42.4" lengthAdjust="spacing" stroke="#0a0a0a" stroke-width="0.2">129.2</text>
<text transform="translate(416.6,324.3) scale(1.053,1)" font-size="15.6" font-weight="bold" text-anchor="middle" fill="#111" stroke="#111" stroke-width="0.3">N:P 6</text>
<text x="518.2" y="324.3" font-size="15.6" font-weight="normal" text-anchor="middle" fill="#0a0a0a" textLength="42.4" lengthAdjust="spacing" stroke="#0a0a0a" stroke-width="0.2">94.85</text>
<text x="603.2" y="324.3" font-size="15.6" font-weight="normal" text-anchor="middle" fill="#0a0a0a" textLength="42.4" lengthAdjust="spacing" stroke="#0a0a0a" stroke-width="0.2">312.8</text>
<text transform="translate(416.6,356.0) scale(1.053,1)" font-size="15.6" font-weight="bold" text-anchor="middle" fill="#111" stroke="#111" stroke-width="0.3">N:P 9</text>
<text x="518.2" y="356.0" font-size="15.6" font-weight="normal" text-anchor="middle" fill="#0a0a0a" textLength="42.4" lengthAdjust="spacing" stroke="#0a0a0a" stroke-width="0.2">91.62</text>
<text x="603.2" y="356.0" font-size="15.6" font-weight="normal" text-anchor="middle" fill="#0a0a0a" textLength="42.4" lengthAdjust="spacing" stroke="#0a0a0a" stroke-width="0.2">556.1</text>
<text transform="translate(416.6,388.0) scale(1.077,1)" font-size="15.6" font-weight="bold" text-anchor="middle" fill="#111" stroke="#111" stroke-width="0.3">N:P 12</text>
<text x="518.2" y="388.0" font-size="15.6" font-weight="normal" text-anchor="middle" fill="#0a0a0a" textLength="42.4" lengthAdjust="spacing" stroke="#0a0a0a" stroke-width="0.2">84.81</text>
<text x="603.2" y="388.0" font-size="15.6" font-weight="normal" text-anchor="middle" fill="#0a0a0a" textLength="42.4" lengthAdjust="spacing" stroke="#0a0a0a" stroke-width="0.2">659.1</text>
</g>
</svg>
</body></html>
